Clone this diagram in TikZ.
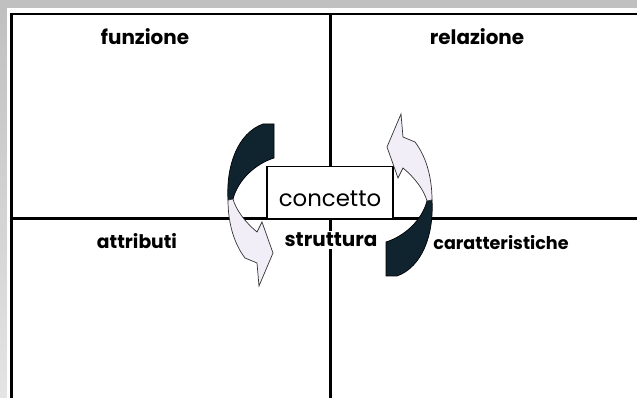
\documentclass[tikz,border=0pt]{standalone}
\usepackage{fontspec}
\setmainfont{Poppins}
\usepackage{tikz}

\definecolor{ribbondark}{RGB}{16,36,48}
\definecolor{ribbonlight}{RGB}{242,238,248}
\definecolor{framegray}{RGB}{192,192,192}
\definecolor{stripgray}{RGB}{228,228,228}

% one bent arrow, left of the box; the right one is the same turned round
\newcommand{\bentarrow}[1]{%
    \filldraw[ribbondark, draw=black, line width=0.6pt, #1] (263,124) -- (274,124) -- (274,158)
        .. controls (255,164) and (238,180) .. (233,199) -- (228,200)
        .. controls (226,165) and (238,133) .. (263,124) -- cycle;
    \filldraw[ribbonlight, draw=black!80, line width=0.6pt, #1] (228,200)
        .. controls (228,225) and (235,245) .. (245,258) -- (257,263) -- (259,286)
        -- (273,253) -- (262,222) -- (257,232)
        .. controls (245,222) and (236,210) .. (233,199) -- cycle;
}

\begin{document}
\begin{tikzpicture}[x=0.03cm, y=-0.03cm,
        quadlabel/.style={font=\bfseries\fontsize{17}{19}\selectfont, inner sep=1pt},
        rule/.style={line width=2pt}]
    \useasboundingbox (0,0) rectangle (637,398);
    \fill[framegray] (0,0) rectangle (637,398);
    \shade[top color=framegray, bottom color=stripgray] (0,8) rectangle (7,398);
    \fill[white] (7,8) rectangle (637,398);

    % the four quadrants
    \draw[rule] (637,14) -- (11.5,14) -- (11.5,398);
    \draw[rule] (11.5,218.5) -- (637,218.5);
    \draw[rule] (330.5,14) -- (330.5,398);

    \node[quadlabel] (funzione) at (145,37) {funzione};
    \node[quadlabel] (relazione) at (477,37) {relazione};
    \node[quadlabel, font=\bfseries\fontsize{16}{18}\selectfont] (attributi) at (137,241) {attributi};
    \node[quadlabel, fill=white, inner sep=2pt] (struttura) at (331,240) {struttura};
    \node[quadlabel, font=\bfseries\fontsize{15}{17}\selectfont] (caratteristiche) at (501,243) {caratteristiche};
    \node[draw, fill=white, line width=1.2pt, minimum width=126*0.03cm, minimum height=52*0.03cm,
          text height=24pt, text depth=0pt,
          font=\fontsize{19.5}{21}\selectfont] (concetto) at (330,192.5) {concetto};

    \bentarrow{}
    \bentarrow{rotate around={180:(330,200)}}
\end{tikzpicture}
\end{document}
